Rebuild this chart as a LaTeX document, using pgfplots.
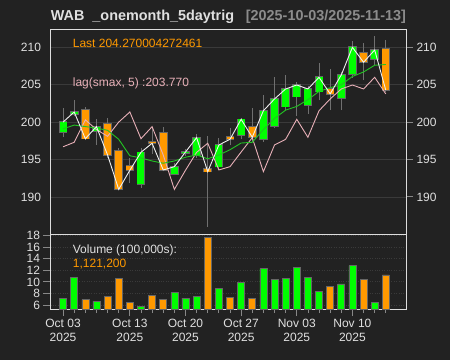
\documentclass[border=0pt]{standalone}
\usepackage{pgfplots}
\pgfplotsset{compat=1.18}
\usepackage{pgfplotstable}
\usepackage{fontspec}
\setmainfont{Liberation Sans}

\definecolor{bg}{HTML}{222222}
\definecolor{upc}{HTML}{00FF00}
\definecolor{dnc}{HTML}{FF9900}
\definecolor{bordc}{HTML}{666666}
\definecolor{wickc}{HTML}{707070}
\definecolor{framec}{HTML}{DDDDDD}
\definecolor{gridc}{HTML}{3A3A3A}
\definecolor{labc}{HTML}{E0E0E0}
\definecolor{tickc}{HTML}{888888}
\definecolor{smac}{HTML}{22C422}
\definecolor{pinkc}{HTML}{E8B0B8}
\definecolor{closec}{HTML}{F0F0F0}
\definecolor{datec}{HTML}{8C8C8C}

\pgfplotstableread{
i O H L C
0 198.64 201.9 198.0 200.0
1 201.1 203.0 200.8 201.35
3 198.81 200.37 196.94 199.39
7 191.68 196.6 191.2 195.96
10 193.06 194.5 192.9 194.04
11 195.86 196.4 195.5 196.0
12 195.6 198.4 195.2 197.92
14 194.04 197.9 193.6 196.94
16 198.28 200.6 197.8 200.37
18 197.7 203.62 197.4 201.52
19 199.48 206.07 199.2 203.09
20 202.06 206.3 201.6 204.43
21 203.4 205.3 200.8 204.96
22 202.25 204.8 201.1 204.43
23 204.07 207.94 202.9 205.99
25 203.18 206.7 201.6 206.3
26 206.39 210.78 205.9 210.0
28 208.44 211.5 207.6 209.64
}\upcandles

\pgfplotstableread{
i O H L C
2 201.62 202.0 197.6 197.78
4 199.71 200.5 195.2 195.6
5 196.1 196.5 190.9 191.0
6 194.17 195.16 191.82 193.56
8 197.3 199.2 195.8 197.17
9 198.59 199.3 193.4 193.6
13 193.73 198.2 186.0 193.37
15 198.05 199.2 196.9 197.7
17 199.39 201.93 197.4 197.97
24 204.43 207.05 201.6 203.77
27 209.2 210.6 205.6 208.0
29 209.78 211.0 204.0 204.27
}\dncandles

\pgfplotstableread{
i C S P
0 200.0 199.1 196.7
1 201.35 199.6 197.3
2 197.78 199.4 200.3
3 199.39 199.2 199.0
4 195.6 198.9 198.1
5 191.0 197.7 200.0
6 193.56 195.5 201.35
7 195.96 195.2 197.78
8 197.17 194.8 199.39
9 193.6 194.5 195.6
10 194.04 194.8 191.0
11 196.0 195.3 193.56
12 197.92 195.6 195.96
13 193.37 195.1 197.17
14 196.94 195.6 193.6
15 197.7 196.3 194.04
16 200.37 197.2 196.0
17 197.97 197.3 197.92
18 201.52 199.0 193.37
19 203.09 200.5 196.94
20 204.43 201.6 197.7
21 204.96 202.1 200.37
22 204.43 203.0 197.97
23 205.99 204.1 201.52
24 203.77 204.6 203.09
25 206.3 205.0 204.43
26 210.0 206.1 204.96
27 208.0 206.7 204.43
28 209.64 207.6 205.99
29 204.27 207.7 203.77
}\linetab

\pgfplotstableread{
i V
0 7.15
1 10.73
3 6.63
7 5.71
10 8.19
11 7.21
12 7.56
14 8.89
16 9.98
18 12.29
19 10.39
20 10.56
21 12.52
22 10.79
23 8.31
25 9.64
26 12.81
28 6.46
}\upvol

\pgfplotstableread{
i V
2 6.92
4 7.5
5 10.62
6 6.52
8 7.73
9 6.92
13 17.66
15 7.38
17 7.21
24 9.23
27 10.44
29 11.212
}\dnvol

\pgfplotsset{
  candlebar/.style 2 args={draw=none, mark=none, forget plot,
    error bars/.cd, y dir=plus, y explicit, error mark=none,
    error bar style={draw=#1, #2}},
}

\begin{document}
\begin{tikzpicture}
\fill[bg] (0pt,0pt) rectangle (450pt,360pt);

% left labels of the price panel
\begin{axis}[
  at={(50.5pt,125.5pt)}, anchor=south west, scale only axis,
  width=356pt, height=205pt,
  xmin=-1.13, xmax=30.86, ymin=184.97, ymax=212.38,
  hide x axis, axis y line*=left,
  y axis line style={draw=none},
  ytick={190,195,200,205,210}, major tick length=0pt,
  yticklabel style={font=\fontsize{12}{12}\selectfont, text=labc, xshift=-6pt},
  /pgf/number format/assume math mode=true,
]
\end{axis}

% price panel
\begin{axis}[
  at={(50.5pt,125.5pt)}, anchor=south west, scale only axis,
  width=356pt, height=205pt,
  xmin=-1.13, xmax=30.86, ymin=184.97, ymax=212.38,
  axis line style={framec, line width=0.8pt},
  xtick=\empty,
  ytick={190,195,200,205,210},
  ymajorgrids, grid style={gridc, line width=0.7pt},
  ytick pos=right, yticklabel pos=right,
  tick align=outside, major tick length=6.5pt,
  every tick/.style={tickc, line width=0.8pt},
  yticklabel style={font=\fontsize{12}{12}\selectfont, text=labc},
  /pgf/number format/assume math mode=true,
]
% wicks
\addplot[candlebar={wickc}{line width=0.8pt}]
  table[x=i, y=L, y error expr=\thisrow{H}-\thisrow{L}] {\upcandles};
\addplot[candlebar={wickc}{line width=0.8pt}]
  table[x=i, y=L, y error expr=\thisrow{H}-\thisrow{L}] {\dncandles};
% body borders
\addplot[candlebar={bordc}{line width=8.6pt, shorten <=-0.8pt, shorten >=-0.8pt}]
  table[x=i, y=O, y error expr=\thisrow{C}-\thisrow{O}] {\upcandles};
\addplot[candlebar={bordc}{line width=8.6pt, shorten <=-0.8pt, shorten >=-0.8pt}]
  table[x=i, y=C, y error expr=\thisrow{O}-\thisrow{C}] {\dncandles};
% bodies
\addplot[candlebar={upc}{line width=7pt}]
  table[x=i, y=O, y error expr=\thisrow{C}-\thisrow{O}] {\upcandles};
\addplot[candlebar={dnc}{line width=7pt}]
  table[x=i, y=C, y error expr=\thisrow{O}-\thisrow{C}] {\dncandles};
% lines
\addplot[pinkc, line width=0.9pt, mark=none] table[x=i, y=P] {\linetab};
\addplot[smac, line width=0.9pt, mark=none] table[x=i, y=S] {\linetab};
\addplot[closec, line width=0.9pt, mark=none] table[x=i, y=C] {\linetab};
\end{axis}

% volume panel
\begin{axis}[
  at={(50.5pt,51pt)}, anchor=south west, scale only axis,
  width=356pt, height=74.5pt,
  xmin=-1.13, xmax=30.86, ymin=5.31, ymax=18.2,
  axis line style={framec, line width=0.8pt},
  ytick={6,8,...,18},
  ymajorgrids, grid style={gridc, dotted, line width=0.8pt},
  ytick pos=left, xtick pos=bottom,
  tick align=outside, major tick length=7pt, minor tick length=4pt,
  every tick/.style={tickc, line width=0.8pt},
  xtick={0,6,11,16,21,26},
  xticklabels={{Oct 03\\2025},{Oct 13\\2025},{Oct 20\\2025},{Oct 27\\2025},{Nov 03\\2025},{Nov 10\\2025}},
  minor xtick={0,1,...,29},
  xticklabel style={align=center, font=\fontsize{12}{14}\selectfont, text=labc},
  yticklabel style={font=\fontsize{12}{12}\selectfont, text=labc},
  /pgf/number format/assume math mode=true,
]
\addplot[ybar, bar width=7pt, bar shift=0pt, fill=upc, draw=bordc, line width=0.6pt] table[x=i, y=V] {\upvol};
\addplot[ybar, bar width=7pt, bar shift=0pt, fill=dnc, draw=bordc, line width=0.6pt] table[x=i, y=V] {\dnvol};
\end{axis}

% texts
\node[anchor=base west, inner sep=0pt, font=\bfseries\fontsize{14.4}{14.4}\selectfont, text=labc] at (50.7pt,340pt) {WAB\ \ \_onemonth\_5daytrig};
\node[anchor=base west, inner sep=0pt, font=\bfseries\fontsize{14.4}{14.4}\selectfont, text=datec] at (245.7pt,340pt) {[2025-10-03/2025-11-13]};
\node[anchor=base west, inner sep=0pt, font=\fontsize{12}{12}\selectfont, text=dnc] at (72.7pt,312.7pt) {Last 204.270004272461};
\node[anchor=base west, inner sep=0pt, font=\fontsize{12}{12}\selectfont, text=pinkc] at (72.7pt,273.3pt) {lag(smax, 5) :203.770};
\node[anchor=base west, inner sep=0pt, font=\fontsize{12}{12}\selectfont, text=labc] at (72.7pt,106.7pt) {Volume (100,000s):};
\node[anchor=base west, inner sep=0pt, font=\fontsize{12}{12}\selectfont, text=dnc] at (72.7pt,92.7pt) {1,121,200};

\pgfresetboundingbox
\path (0pt,0pt) rectangle (450pt,360pt);
\end{tikzpicture}
\end{document}
